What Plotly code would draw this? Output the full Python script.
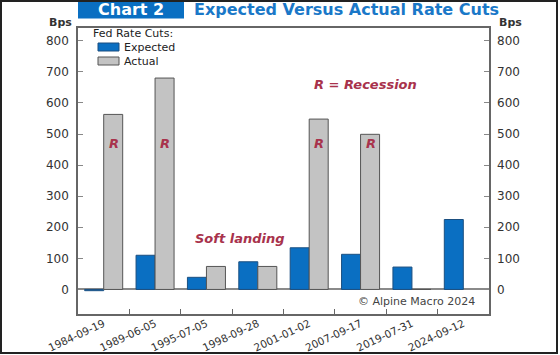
import plotly.graph_objects as go

dates = ["1984-09-19", "1989-06-05", "1995-07-05", "1998-09-28",
         "2001-01-02", "2007-09-17", "2019-07-31", "2024-09-12"]
expected = [-4, 110, 39, 89, 134, 113, 72, 225]
actual = [563, 680, 74, 74, 548, 499, 0, None]
recession_dates = ["1984-09-19", "1989-06-05", "2001-01-02", "2007-09-17"]
y_ticks = [0, 100, 200, 300, 400, 500, 600, 700, 800]
series_names = ["Expected", "Actual"]

W, H = 560, 355
ML, MR, MT, MB = 78, 71, 28, 41
PW, PH = W - ML - MR, H - MT - MB
Y0, Y1 = -79, 841

def px_x(p):
    return (p - ML) / PW

def px_y(p):
    return 1 + (MT - p) / PH

BLUE = "#0a6fc2"
GRAY = "#c3c3c3"
RED = "#a8324c"
FONT = "DejaVu Sans, Liberation Sans, Arial, sans-serif"

fig = go.Figure()
fig.add_trace(go.Bar(x=dates, y=expected, name=series_names[0], showlegend=False,
                     marker=dict(color=BLUE, line=dict(color="#1b4f80", width=1))))
fig.add_trace(go.Bar(x=dates, y=actual, name=series_names[1], showlegend=False,
                     marker=dict(color=GRAY, line=dict(color="#555555", width=1))))
fig.add_trace(go.Scatter(x=[dates[0]], y=[0], yaxis="y2", mode="markers",
                         marker=dict(opacity=0), showlegend=False, hoverinfo="skip"))

ann = []
for d in recession_dates:
    ann.append(dict(x=d, y=470, xref="x", yref="y", text="<b><i>R</i></b>", showarrow=False,
                    xshift=10, font=dict(family=FONT, size=13, color=RED)))
ann.append(dict(x="2007-09-17", y=658, xref="x", yref="y", text="<b><i>R = Recession</i></b>",
                showarrow=False, xshift=5, font=dict(family=FONT, size=13, color=RED)))
ann.append(dict(x="1998-09-28", y=165, xref="x", yref="y", text="<b><i>Soft landing</i></b>",
                showarrow=False, xshift=-18, font=dict(family=FONT, size=13, color=RED)))
ann.append(dict(x=px_x(477), y=-38, xref="paper", yref="y", xanchor="right", yanchor="middle",
                text="© Alpine Macro 2024", showarrow=False,
                font=dict(family=FONT, size=11, color="#444444")))
ann.append(dict(x=px_x(60), y=px_y(23), xref="paper", yref="paper", xanchor="center",
                yanchor="middle", text="<b>Bps</b>",
                showarrow=False, font=dict(family=FONT, size=11, color="#333333")))
ann.append(dict(x=px_x(510), y=px_y(23), xref="paper", yref="paper", xanchor="center",
                yanchor="middle", text="<b>Bps</b>",
                showarrow=False, font=dict(family=FONT, size=11, color="#333333")))
ann.append(dict(x=px_x(131), y=px_y(9.5), xref="paper", yref="paper", xanchor="center",
                yanchor="middle", text="<b>Chart 2</b>",
                showarrow=False, font=dict(family=FONT, size=16, color="white")))
ann.append(dict(x=px_x(192), y=px_y(9.5), xref="paper", yref="paper", xanchor="left",
                yanchor="middle", text="<b>Expected Versus Actual Rate Cuts</b>",
                showarrow=False, font=dict(family=FONT, size=16, color="#1a78c8")))

# legend drawn by hand to reproduce the tight stacked layout
ann.append(dict(x=px_x(91), y=px_y(33), xref="paper", yref="paper", xanchor="left",
                yanchor="middle", text="Fed Rate Cuts:", showarrow=False,
                font=dict(family=FONT, size=11, color="#222222")))
leg_rows = [(47, BLUE, "#1b4f80"), (61, GRAY, "#555555")]
shapes = []
for name, (yc, fc, lc) in zip(series_names, leg_rows):
    ann.append(dict(x=px_x(122), y=px_y(yc), xref="paper", yref="paper", xanchor="left",
                    yanchor="middle", text=name, showarrow=False,
                    font=dict(family=FONT, size=11, color="#222222")))
    shapes.append(dict(type="rect", xref="paper", yref="paper", x0=px_x(98), x1=px_x(119),
                       y0=px_y(yc + 4), y1=px_y(yc - 4), fillcolor=fc,
                       line=dict(color=lc, width=1)))

shapes += [
    dict(type="rect", xref="paper", yref="paper", x0=px_x(78), x1=px_x(184),
         y0=px_y(18.6), y1=px_y(0), fillcolor="#0a6fc2", line=dict(width=0), layer="below"),
    dict(type="rect", xref="paper", yref="paper", x0=px_x(1), x1=px_x(557),
         y0=px_y(353), y1=px_y(1), line=dict(color="#222222", width=2)),
]

axis_font = dict(family=FONT, size=12, color="#333333")
fig.update_layout(
    width=W, height=H,
    margin=dict(l=ML, r=MR, t=MT, b=MB, autoexpand=False),
    paper_bgcolor="white", plot_bgcolor="white",
    barmode="group", bargap=0.26, bargroupgap=0,
    font=dict(family=FONT),
    showlegend=False,
    xaxis=dict(type="category", showline=True, linecolor="#666666", linewidth=1.5, mirror=True,
               ticks="inside", tickson="boundaries", ticklen=5, tickcolor="#666666",
               tickangle=-25, tickfont=dict(family=FONT, size=10.5, color="#333333"),
               ticklabelstandoff=-2,
               showgrid=False, automargin=False),
    yaxis=dict(range=[Y0, Y1], tickvals=y_ticks, showline=True, linecolor="#666666", linewidth=1.5,
               mirror=True, ticks="inside", ticklen=5, tickcolor="#888888", tickfont=axis_font,
               ticklabelstandoff=5,
               showgrid=False, zeroline=True, zerolinecolor="#8a8a8a", zerolinewidth=1.5,
               automargin=False),
    yaxis2=dict(range=[Y0, Y1], tickvals=y_ticks, overlaying="y", side="right", anchor="x",
                ticks="inside", ticklen=5, tickcolor="#888888", tickfont=axis_font,
                ticklabelstandoff=7,
                showgrid=False, zeroline=False, showline=False, automargin=False),
    annotations=ann,
    shapes=shapes,
)

fig.write_html("out.html", config={"displayModeBar": False},
               post_script="document.body.style.margin='0';document.body.style.overflow='hidden';")
